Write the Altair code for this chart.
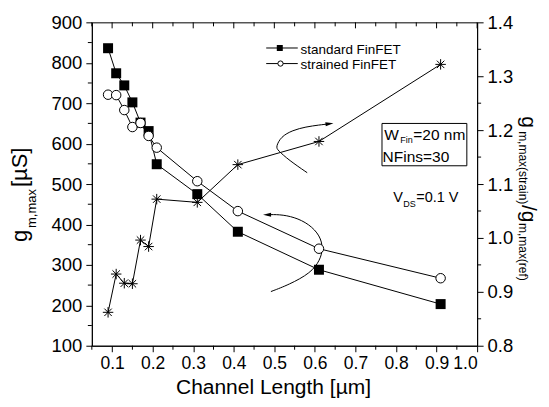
import altair as alt
import pandas as pd

FONT = "Liberation Sans"

# ---- data ----
length_um = [0.09, 0.11, 0.13, 0.15, 0.17, 0.19, 0.21, 0.31, 0.41, 0.61, 0.91]
gm_standard = [836, 774, 744, 702, 652, 631, 549, 475, 382, 288, 203]
gm_strained = [721, 720, 683, 641, 651, 619, 590, 507, 433, 340, 267]
gm_ratio = [0.862, 0.933, 0.916, 0.915, 0.996, 0.984, 1.072, 1.066, 1.136, 1.179, 1.322]

# axis ticks
x_major = [0.1, 0.2, 0.3, 0.4, 0.5, 0.6, 0.7, 0.8, 0.9, 1.0]
x_minor = [0.05, 0.15, 0.25, 0.35, 0.45, 0.55, 0.65, 0.75, 0.85, 0.95]
yl_major = [100, 200, 300, 400, 500, 600, 700, 800, 900]
yl_minor = [150, 250, 350, 450, 550, 650, 750, 850]
yr_major = [0.8, 0.9, 1.0, 1.1, 1.2, 1.3, 1.4]
yr_minor = [0.85, 0.95, 1.05, 1.15, 1.25, 1.35]

# annotation arrows (data coordinates, left axis)
arrow1_x = [0.581, 0.536, 0.508, 0.504, 0.516, 0.545, 0.578, 0.610, 0.636]
arrow1_y = [528, 559, 584, 592, 617, 633, 641.5, 646, 649]
arrow2_x = [0.4915, 0.536, 0.590, 0.613, 0.620, 0.613, 0.586, 0.549, 0.512, 0.482]
arrow2_y = [234, 251, 280, 312, 341, 372, 401, 418.5, 425, 424]

df = pd.DataFrame({"L": length_um, "std": gm_standard, "str": gm_strained, "ratio": gm_ratio})

xs = alt.Scale(domain=[0.05, 1.0], nice=False, zero=False)
ysl = alt.Scale(domain=[100, 900], nice=False, zero=False)
ysr = alt.Scale(domain=[0.8, 1.4], nice=False, zero=False)

common_axis = dict(title=None, grid=False, tickSize=6, tickColor="black", domainColor="black",
                   labelColor="black", labelFont=FONT)
x_axis = alt.Axis(values=x_major, format=".1f", labelFontSize=17.5, labelPadding=3, **common_axis)
yl_axis = alt.Axis(values=yl_major, orient="left", labelFontSize=18.5, labelPadding=4, **common_axis)
yr_axis = alt.Axis(values=yr_major, format=".1f", orient="right", labelFontSize=18.5, labelPadding=4, **common_axis)

X = alt.X("L:Q", scale=xs, axis=x_axis)

STAR = "M-1,0L1,0M0,-1L0,1M-0.71,-0.71L0.71,0.71M-0.71,0.71L0.71,-0.71"
HEAD_R = "M1,0L-1,-0.5L-1,0.5Z"
HEAD_L = "M-1,0L1,-0.5L1,0.5Z"

base = alt.Chart(df)

std_line = base.mark_line(color="black", strokeWidth=1).encode(
    x=X, y=alt.Y("std:Q", scale=ysl, axis=yl_axis))
str_line = base.mark_line(color="black", strokeWidth=1).encode(
    x=X, y=alt.Y("str:Q", scale=ysl, axis=yl_axis))
std_pts = base.mark_point(shape="square", filled=True, size=100, color="black", opacity=1).encode(
    x=X, y=alt.Y("std:Q", scale=ysl, axis=yl_axis))
str_pts = base.mark_point(shape="circle", filled=True, size=90, fill="white", stroke="black",
                          strokeWidth=1, opacity=1).encode(
    x=X, y=alt.Y("str:Q", scale=ysl, axis=yl_axis))

# arrows
a1 = pd.DataFrame({"L": arrow1_x, "v": arrow1_y, "o": list(range(len(arrow1_x)))})
a2 = pd.DataFrame({"L": arrow2_x, "v": arrow2_y, "o": list(range(len(arrow2_x)))})
arrow1 = alt.Chart(a1).mark_line(color="black", strokeWidth=1, interpolate="basis").encode(
    x=X, y=alt.Y("v:Q", scale=ysl, axis=yl_axis), order="o:Q")
arrow2 = alt.Chart(a2).mark_line(color="black", strokeWidth=1, interpolate="basis").encode(
    x=X, y=alt.Y("v:Q", scale=ysl, axis=yl_axis), order="o:Q")
head1 = alt.Chart(a1.tail(1)).mark_point(shape=HEAD_R, filled=True, size=64, color="black",
                                         opacity=1, angle=353).encode(
    x=X, y=alt.Y("v:Q", scale=ysl, axis=yl_axis))
head2 = alt.Chart(a2.tail(1)).mark_point(shape=HEAD_L, filled=True, size=64, color="black",
                                         opacity=1).encode(
    x=X, y=alt.Y("v:Q", scale=ysl, axis=yl_axis))

# minor ticks and top ticks
xmin_df = pd.DataFrame({"L": x_minor})
xmaj_df = pd.DataFrame({"L": x_major})
bot_minor = alt.Chart(xmin_df).mark_rule(color="black", strokeWidth=1).encode(
    x=X, y=alt.value(324), y2=alt.value(328))
top_minor = alt.Chart(xmin_df).mark_rule(color="black", strokeWidth=1).encode(
    x=X, y=alt.value(0), y2=alt.value(4))
top_major = alt.Chart(xmaj_df).mark_rule(color="black", strokeWidth=1).encode(
    x=X, y=alt.value(0), y2=alt.value(6))
left_minor = alt.Chart(pd.DataFrame({"v": yl_minor})).mark_rule(color="black", strokeWidth=1).encode(
    y=alt.Y("v:Q", scale=ysl, axis=yl_axis), x=alt.value(-4), x2=alt.value(0))


def txt(s, x, y, size, angle=0, align="left", baseline="alphabetic"):
    return alt.Chart(alt.Data(values=[{}])).mark_text(
        text=s, font=FONT, fontSize=size, angle=angle, align=align, baseline=baseline,
        color="black").encode(x=alt.value(x), y=alt.value(y))


def hline(x1, x2, y):
    return alt.Chart(alt.Data(values=[{}])).mark_rule(color="black", strokeWidth=1).encode(
        x=alt.value(x1), x2=alt.value(x2), y=alt.value(y))


def marker(x, y, **kw):
    return alt.Chart(alt.Data(values=[{}])).mark_point(opacity=1, **kw).encode(
        x=alt.value(x), y=alt.value(y))


texts = [
    # x title
    txt("Channel Length [\u00b5m]", 182, 372.5, 21, align="center"),
    # left title
    txt("g", -64.5, 220, 22, angle=270),
    txt("m,max", -56, 206, 13, angle=270),
    txt("[\u00b5S]", -64.5, 165, 22, angle=270),
    # right title
    txt("g", 431, 94, 21, angle=90),
    txt("m,max(strain)", 428, 109, 12, angle=90),
    txt("/g", 431, 183, 21, angle=90),
    txt("m,max(ref)", 428, 201, 12, angle=90),
    # legend
    hline(174.7, 206.3, 25.7),
    marker(188.3, 25.7, shape="square", filled=True, size=36, color="black"),
    txt("standard FinFET", 209, 31.3, 13.5),
    hline(174.7, 206.3, 41.3),
    marker(189, 41.3, shape="circle", filled=True, size=28, fill="white", stroke="black", strokeWidth=1),
    txt("strained FinFET", 209, 47, 13.5),
    # box
    alt.Chart(alt.Data(values=[{}])).mark_rect(fill="white", stroke="black", strokeWidth=1).encode(
        x=alt.value(290.7), x2=alt.value(375.7), y=alt.value(101.3), y2=alt.value(143.7)),
    txt("W", 293, 117.5, 15.5),
    txt("Fin", 309, 120.5, 9),
    txt("=20 nm", 322, 117.5, 15.5),
    txt("NFins=30", 291.3, 139.7, 15.5),
    # V_DS
    txt("V", 302, 179.7, 14.5),
    txt("DS", 312, 185.3, 9),
    txt("=0.1 V", 325, 179.7, 14.5),
]

left_group = alt.layer(
    top_major, top_minor, bot_minor, left_minor,
    arrow1, arrow2, head1, head2,
    std_line, str_line, std_pts, str_pts,
    *texts,
)

ratio_line = base.mark_line(color="black", strokeWidth=1).encode(
    x=X, y=alt.Y("ratio:Q", scale=ysr, axis=yr_axis))
ratio_pts = base.mark_point(shape=STAR, filled=False, size=110, color="black", strokeWidth=1,
                            opacity=1).encode(
    x=X, y=alt.Y("ratio:Q", scale=ysr, axis=yr_axis))
right_minor = alt.Chart(pd.DataFrame({"r": yr_minor})).mark_rule(color="black", strokeWidth=1).encode(
    y=alt.Y("r:Q", scale=ysr, axis=yr_axis), x=alt.value(386), x2=alt.value(390))

right_group = alt.layer(right_minor, ratio_line, ratio_pts)

chart = alt.layer(left_group, right_group).resolve_scale(y="independent").properties(
    width=386, height=324,
    autosize=alt.AutoSizeParams(type="none"),
    padding={"left": 84, "top": 14, "right": 64, "bottom": 53},
    background="white",
).configure_view(stroke="black", strokeWidth=1)

chart.save("out.html", embed_options={"renderer": "svg", "actions": False})
